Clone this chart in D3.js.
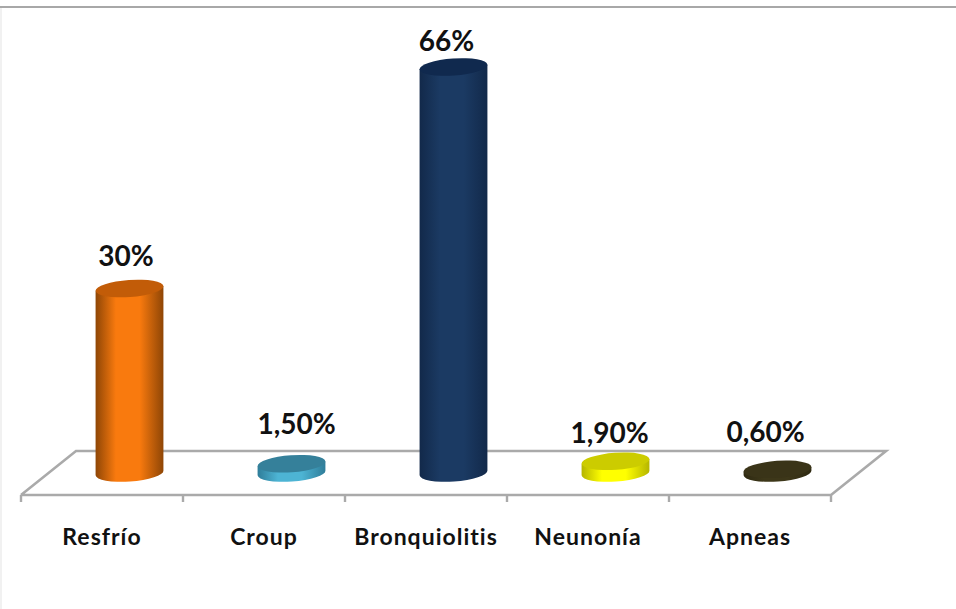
<!DOCTYPE html>
<html>
<head>
<meta charset="utf-8">
<script src="https://cdn.jsdelivr.net/npm/d3@7/dist/d3.min.js"></script>
<style>
  html, body { margin: 0; padding: 0; background: #fff; }
  svg { display: block; }
  text { font-family: Lato, "Open Sans", sans-serif; font-weight: 700; fill: #111; }
</style>
</head>
<body>
<div id="chart"></div>
<script>
const categories = ["Resfrío", "Croup", "Bronquiolitis", "Neunonía", "Apneas"];
const values = [30, 1.5, 66, 1.9, 0.6];
const valueLabels = ["30%", "1,50%", "66%", "1,90%", "0,60%"];
const sideEdge = ["#8f4606", "#2f7d99", "#12294a", "#b5b500", "#2f2a12"];
const sideMid = ["#f97a0e", "#4db4d4", "#1b3a63", "#ffff00", "#3d3719"];
const topFill = ["#c25c08", "#35809a", "#10294e", "#cccc00", "#3a3418"];

const width = 956, height = 609;
const floor = { left: 21, right: 831, front: 495, back: 451, depth: 55, tick: 7 };
const cyl = { rx: 34, ry: 8.5, tilt: -4, baseY: 473 };

// Each label sits by hand relative to its cylinder's top, as the plot is quite crowded near the floor.
const labelShift = [
  { dx: -3.5, dy: -14 }, { dx: 5, dy: -21 }, { dx: -7, dy: -8 }, { dx: -6, dy: -10 }, { dx: -12, dy: -19 }
];

const svg = d3.select("#chart").append("svg").attr("width", width).attr("height", height);

const x = d3.scaleBand().domain(categories).range([floor.left, floor.right]);
const y = d3.scaleLinear().domain([0, 66]).range([cyl.baseY, 67]);

// Frame remnants around the plot area
svg.append("line").attr("x1", 0).attr("x2", width).attr("y1", 7).attr("y2", 7)
  .attr("stroke", "#a8a8a8").attr("stroke-width", 2);
svg.append("line").attr("x1", 1).attr("x2", 1).attr("y1", 8).attr("y2", height)
  .attr("stroke", "#ececec").attr("stroke-width", 1.5);

// Floor plane drawn in perspective
const floorColor = "#aaaaaa";
const floorGroup = svg.append("g").attr("stroke", floorColor).attr("fill", "none");
floorGroup.append("path")
  .attr("stroke-width", 2.6)
  .attr("d", d3.line()([
    [floor.left, floor.front],
    [floor.left + floor.depth, floor.back],
    [floor.right + floor.depth, floor.back],
    [floor.right, floor.front],
    [floor.left, floor.front]
  ]));

const tickPositions = categories.map(c => x(c)).concat(floor.right);
floorGroup.selectAll("line.tick-mark").data(tickPositions).join("line")
  .attr("class", "tick-mark")
  .attr("x1", d => d).attr("x2", d => d)
  .attr("y1", floor.front).attr("y2", floor.front + floor.tick)
  .attr("stroke-width", 2.4);

// Category labels come from the band axis; its own line and ticks stay hidden
const axis = svg.append("g")
  .attr("transform", `translate(0,${floor.front})`)
  .call(d3.axisBottom(x).tickSize(0).tickPadding(34));
axis.select(".domain").remove();
axis.selectAll("text")
  .style("font-size", "23px")
  .style("font-family", "Lato, sans-serif")
  .style("font-weight", 700)
  .style("letter-spacing", "1px")
  .style("fill", "#111");

// Horizontal shading that gives the cylinders their volume
const defs = svg.append("defs");
categories.forEach((c, i) => {
  const g = defs.append("linearGradient").attr("id", `side-${i}`)
    .attr("x1", 0).attr("x2", 1).attr("y1", 0).attr("y2", 0);
  g.append("stop").attr("offset", "0%").attr("stop-color", sideEdge[i]);
  g.append("stop").attr("offset", "30%").attr("stop-color", sideMid[i]);
  g.append("stop").attr("offset", "65%").attr("stop-color", sideMid[i]);
  g.append("stop").attr("offset", "100%").attr("stop-color", sideEdge[i]);
});

const rad = cyl.tilt * Math.PI / 180;
const ox = cyl.rx * Math.cos(rad), oy = cyl.rx * Math.sin(rad);
const centerX = c => x(c) + x.bandwidth() / 2 + floor.depth / 2;

const bars = svg.selectAll("g.cylinder").data(categories).join("g").attr("class", "cylinder");

bars.append("path")
  .attr("fill", (c, i) => `url(#side-${i})`)
  .attr("d", (c, i) => {
    const cx = centerX(c), t = y(values[i]), b = y(0);
    return `M${cx - ox},${t - oy} L${cx - ox},${b - oy} ` +
      `A${cyl.rx},${cyl.ry} ${cyl.tilt} 0 0 ${cx + ox},${b + oy} L${cx + ox},${t + oy} Z`;
  });

bars.append("ellipse")
  .attr("rx", cyl.rx).attr("ry", cyl.ry)
  .attr("fill", (c, i) => topFill[i])
  .attr("transform", (c, i) => `translate(${centerX(c)},${y(values[i])}) rotate(${cyl.tilt})`);

// Value labels above each cylinder
svg.selectAll("text.value").data(categories).join("text")
  .attr("class", "value")
  .attr("text-anchor", "middle")
  .attr("font-size", 28)
  .attr("x", (c, i) => centerX(c) + labelShift[i].dx)
  .attr("y", (c, i) => y(values[i]) - cyl.ry + labelShift[i].dy)
  .text((c, i) => valueLabels[i]);
</script>
</body>
</html>
